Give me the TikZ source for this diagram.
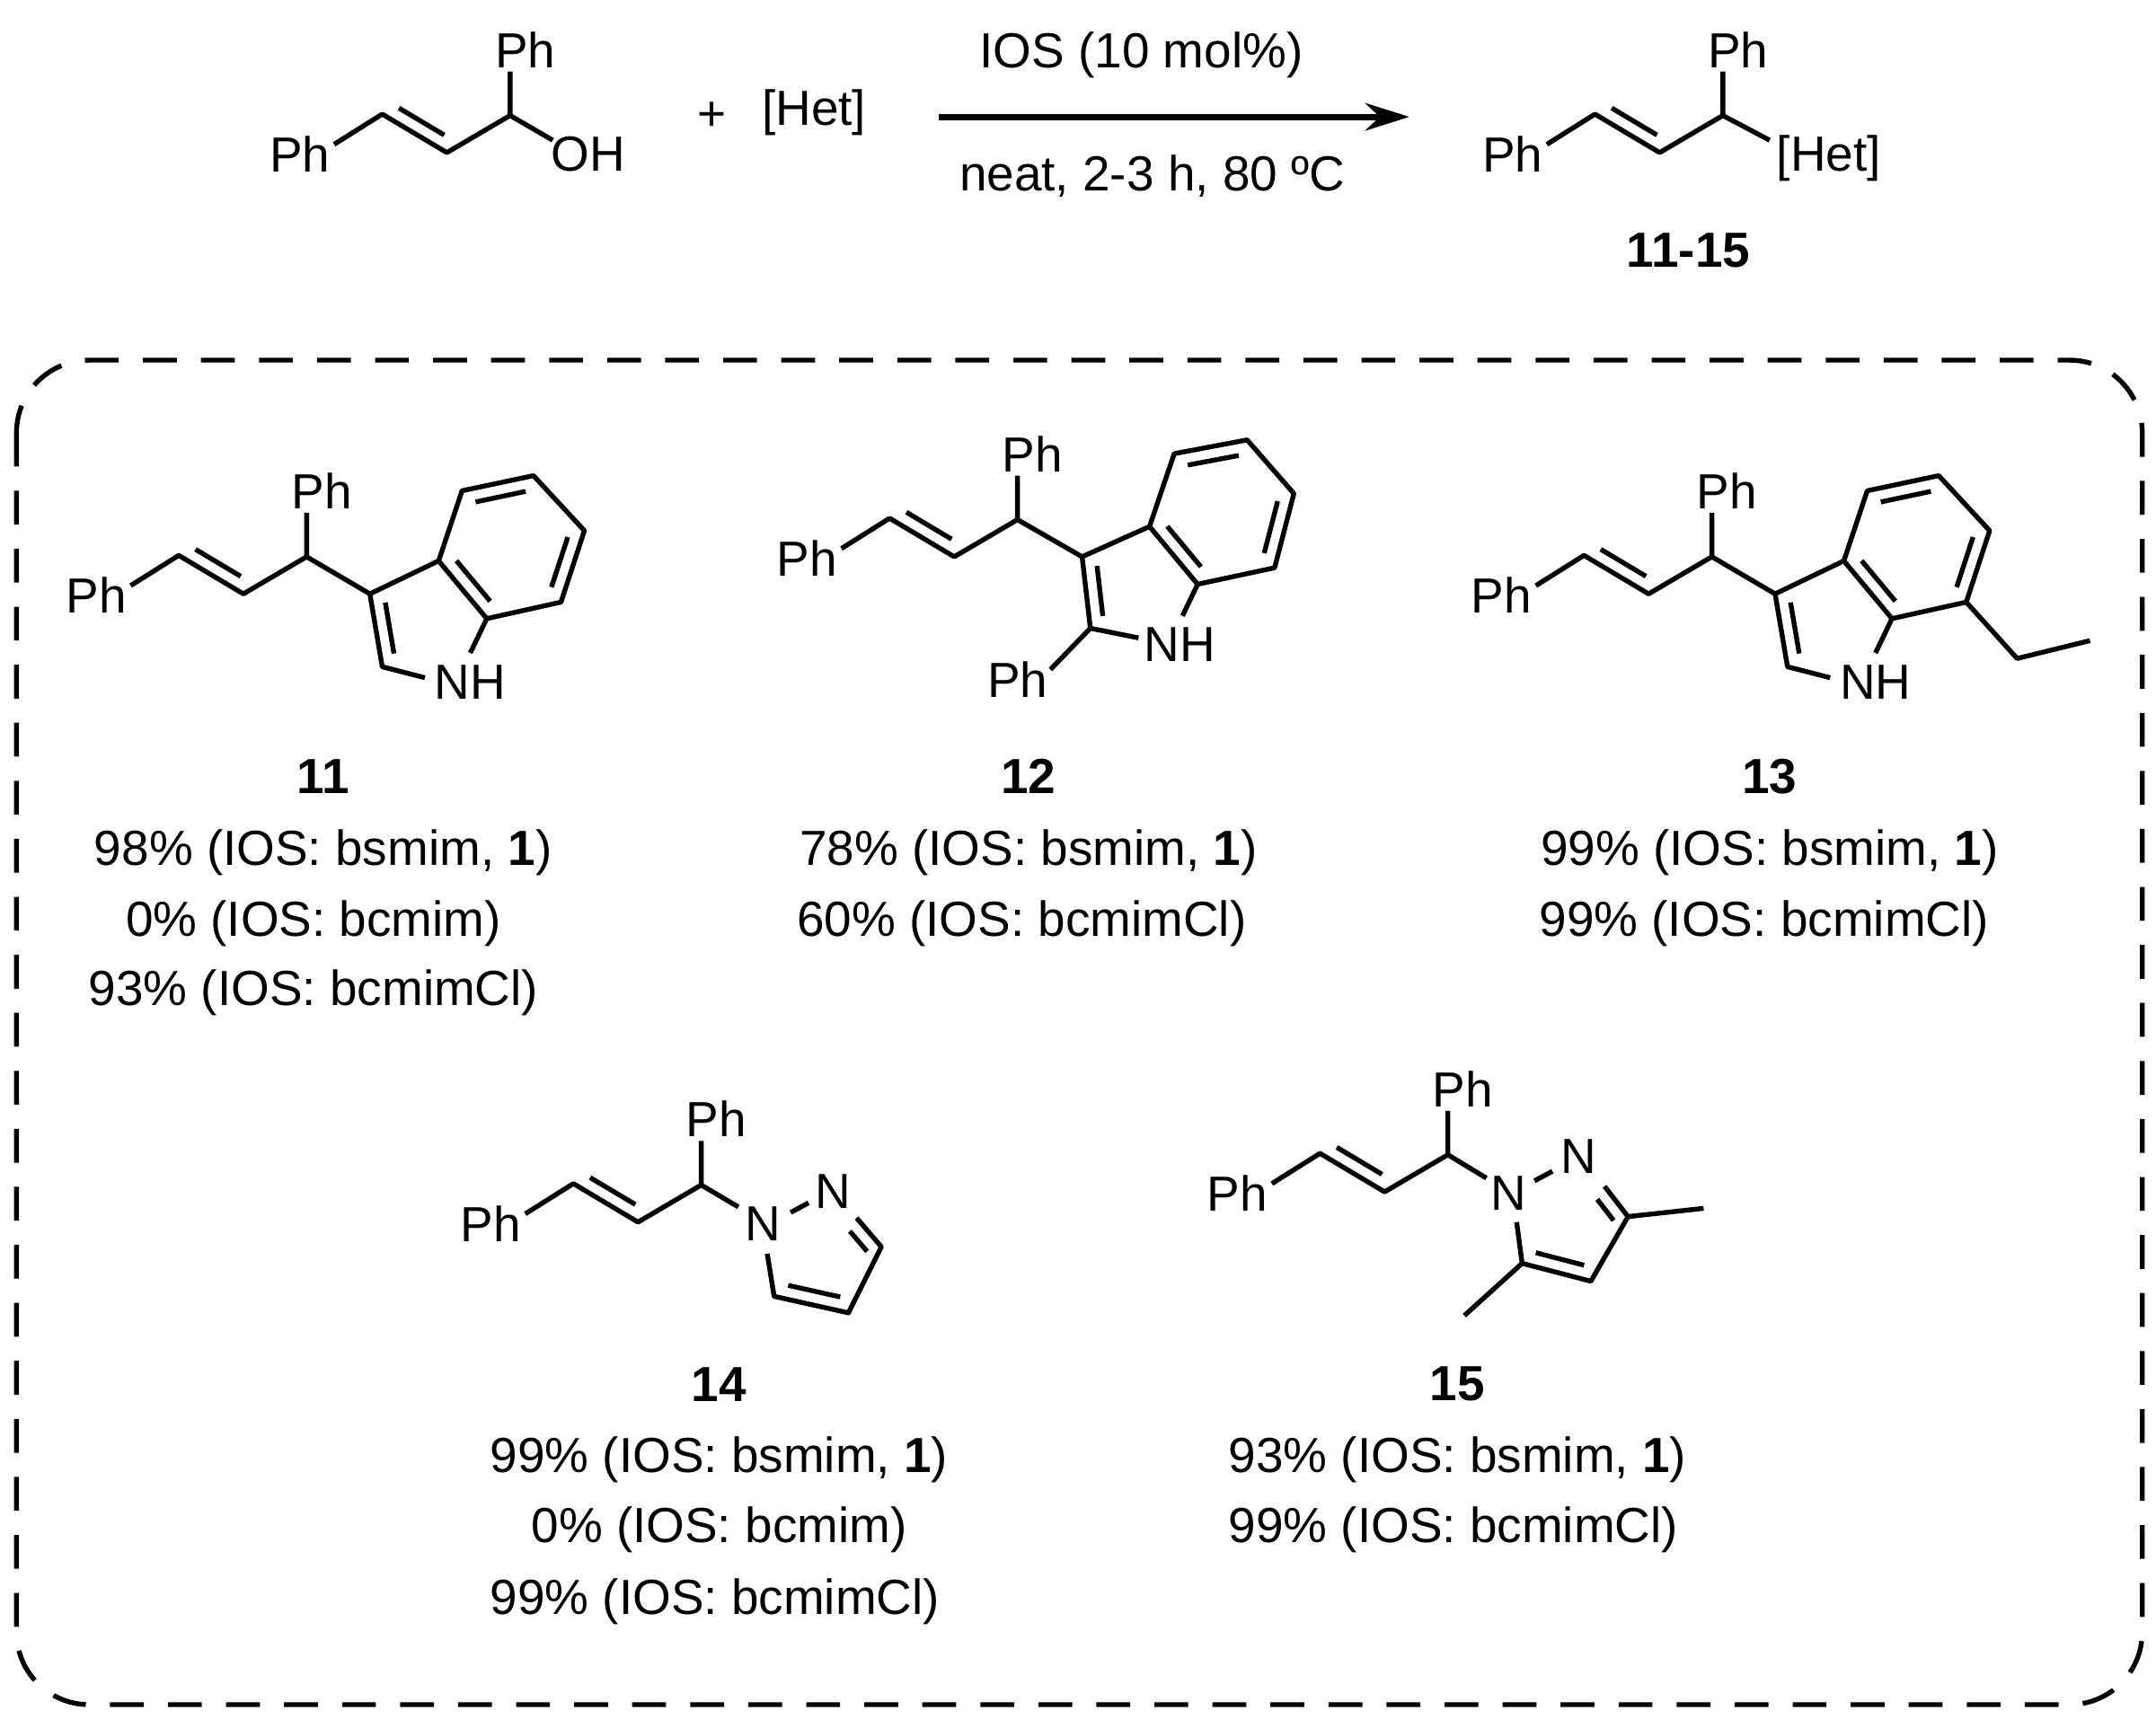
\documentclass[tikz,border=0pt]{standalone}
\usepackage{fontspec}
\setmainfont{Liberation Sans}
\usetikzlibrary{calc,arrows.meta}
\newcommand\dbond[3]{\draw ($(#1)!0.15!(#2)!0.1cm!#3:(#2)$) -- ($(#2)!0.15!(#1)!0.1cm!-#3:(#1)$);}
\newcommand\cinn{%
  \node[lab] (ph1) at (70,433) {Ph};
  \coordinate (s) at (95,426);
  \coordinate (v1) at (130,404);
  \coordinate (v2) at (177,432);
  \coordinate (v3) at (223,405);
  \coordinate (t) at (223,373);
  \node[lab] (ph2) at (234,357) {Ph};
  \draw[bond] (s) -- (v1) -- (v2) -- (v3) -- (t);
  \dbond{v1}{v2}{90}}
\newcommand\indole{%
  \coordinate (C3) at (269,432); \coordinate (C3a) at (319,408);
  \coordinate (C2) at (278,485); \node[lab] (N) at (342,496) {NH};
  \coordinate (n1) at (309,493); \coordinate (C7a) at (354,450);
  \coordinate (n2) at (342,475); \coordinate (C4) at (336,357);
  \coordinate (C5) at (388,346); \coordinate (C6) at (425,386);
  \coordinate (C7) at (408,438);
  \draw[bond] (C3) -- (C2) -- (n1);
  \draw[bond] (n2) -- (C7a) -- (C3a) -- (C4) -- (C5) -- (C6) -- (C7) -- (C7a);
  \draw[bond] (C3) -- (C3a);
  \dbond{C4}{C5}{-90}\dbond{C6}{C7}{-90}\dbond{C7a}{C3a}{-90}\dbond{C2}{C3}{-90}}
\begin{document}
\begin{tikzpicture}[x=0.01cm,y=-0.01cm,line join=round,
  bond/.style={line width=1pt},
  every path/.style={line width=1pt},
  lab/.style={inner sep=0pt,font=\fontsize{10.2}{12}\selectfont},
  txt/.style={inner sep=0pt,font=\fontsize{10.2}{12}\selectfont}]
\useasboundingbox (0,0) rectangle (1568,1250);
% top reaction
\begin{scope}[shift={(148,-321)},name prefix=r-]
  \cinn
  \coordinate (o) at (254,423);
  \node[lab] (oh) at (280,433) {OH};
  \draw[bond] (v3) -- (o);
\end{scope}
\node[txt] (plus) at (518,85) {+};
\node[txt] (het) at (592,82) {[Het]};
\coordinate (a1) at (683,85); \coordinate (a2) at (1025,85);
\draw[line width=1.3pt,-{Stealth[length=0.32cm,width=0.2cm]}] (a1) -- (a2);
\node[txt] (cond1) at (830,40) {IOS (10 mol\%)};
\node[txt] (cond2) at (838,128) {neat, 2-3 h, 80 ºC};
\begin{scope}[shift={(1030,-321)},name prefix=p-]
  \cinn
  \coordinate (o) at (257,423);
  \node[lab] (hp) at (300,436) {[Het]};
  \draw[bond] (v3) -- (o);
\end{scope}
\node[txt] (l1115) at (1228,182) {\bfseries 11-15};
% box
\draw[dash pattern=on 7pt off 5pt,rounded corners=15] (12,262) rectangle (1558,1240);
% 11
\begin{scope}[name prefix=a-]
  \cinn \draw[bond] (v3) -- (269,432); \indole
\end{scope}
% 13
\begin{scope}[shift={(1022,0)},name prefix=c-]
  \cinn \draw[bond] (v3) -- (269,432); \indole
  \coordinate (e1) at (445,479); \coordinate (e2) at (498,466);
  \draw[bond] (C7) -- (e1) -- (e2);
\end{scope}
% 12
\begin{scope}[shift={(517,-27)},name prefix=b-]
  \cinn
\end{scope}
\begin{scope}[name prefix=b-]
  \coordinate (C3) at (787,405); \coordinate (C3a) at (836,383);
  \coordinate (C2) at (793,457); \node[lab] (N) at (858,469) {NH};
  \coordinate (n1) at (828,464); \coordinate (C7a) at (871,425);
  \coordinate (n2) at (860,448); \coordinate (C4) at (854,330);
  \coordinate (C5) at (907,320); \coordinate (C6) at (941,359);
  \coordinate (C7) at (927,413); \coordinate (pb) at (764,487);
  \node[lab] (ph3) at (740,494) {Ph};
  \draw[bond] (v3) -- (C3) -- (C2) -- (n1);
  \draw[bond] (C2) -- (pb);
  \draw[bond] (n2) -- (C7a) -- (C3a) -- (C4) -- (C5) -- (C6) -- (C7) -- (C7a);
  \draw[bond] (C3) -- (C3a);
  \dbond{C4}{C5}{-90}\dbond{C6}{C7}{-90}\dbond{C7a}{C3a}{-90}\dbond{C2}{C3}{-90}
\end{scope}
% 14
\begin{scope}[shift={(287,457)},name prefix=d-]
  \cinn
\end{scope}
\begin{scope}[name prefix=d-]
  \coordinate (q1) at (537,878); \node[lab] (N1) at (555,890) {N};
  \coordinate (m1) at (575,882); \coordinate (m2) at (588,875);
  \node[lab] (N2) at (606,867) {N};
  \coordinate (k) at (623,886); \coordinate (C3) at (641,907);
  \coordinate (C4) at (617,955); \coordinate (C5) at (563,943);
  \coordinate (k2) at (558,912);
  \draw[bond] (v3) -- (q1);
  \draw[bond] (m1) -- (m2);
  \draw[bond] (k) -- (C3) -- (C4) -- (C5) -- (k2);
  \dbond{k}{C3}{-90}\dbond{C4}{C5}{-90}
\end{scope}
% 15
\begin{scope}[shift={(830,435)},name prefix=e-]
  \cinn
\end{scope}
\begin{scope}[name prefix=e-]
  \coordinate (q1) at (1081,857); \node[lab] (N1) at (1097,868) {N};
  \coordinate (m1) at (1116,859); \coordinate (m2) at (1129,852);
  \node[lab] (N2) at (1148,841) {N};
  \coordinate (k) at (1167,863); \coordinate (C3) at (1184,885);
  \coordinate (C4) at (1157,932); \coordinate (C5) at (1107,919);
  \coordinate (k2) at (1103,889);
  \coordinate (me1) at (1239,879); \coordinate (me2) at (1065,957);
  \draw[bond] (v3) -- (q1);
  \draw[bond] (m1) -- (m2);
  \draw[bond] (k) -- (C3) -- (C4) -- (C5) -- (k2);
  \draw[bond] (C3) -- (me1); \draw[bond] (C5) -- (me2);
  \dbond{k}{C3}{-90}\dbond{C4}{C5}{-90}
\end{scope}
% labels
\node[txt] (n11) at (235,565) {\bfseries 11};
\node[txt] (t11a) at (235,620) {98\% (IOS: bsmim, \textbf{1})};
\node[txt] (t11b) at (228,672) {0\% (IOS: bcmim)};
\node[txt] (t11c) at (228,722) {93\% (IOS: bcmimCl)};
\node[txt] (n12) at (748,565) {\bfseries 12};
\node[txt] (t12a) at (748,620) {78\% (IOS: bsmim, \textbf{1})};
\node[txt] (t12b) at (743,672) {60\% (IOS: bcmimCl)};
\node[txt] (n13) at (1287,565) {\bfseries 13};
\node[txt] (t13a) at (1287,620) {99\% (IOS: bsmim, \textbf{1})};
\node[txt] (t13b) at (1283,672) {99\% (IOS: bcmimCl)};
\node[txt] (n14) at (523,1007) {\bfseries 14};
\node[txt] (t14a) at (523,1062) {99\% (IOS: bsmim, \textbf{1})};
\node[txt] (t14b) at (523,1113) {0\% (IOS: bcmim)};
\node[txt] (t14c) at (520,1165) {99\% (IOS: bcmimCl)};
\node[txt] (n15) at (1060,1007) {\bfseries 15};
\node[txt] (t15a) at (1060,1062) {93\% (IOS: bsmim, \textbf{1})};
\node[txt] (t15b) at (1057,1113) {99\% (IOS: bcmimCl)};
\end{tikzpicture}
\end{document}
